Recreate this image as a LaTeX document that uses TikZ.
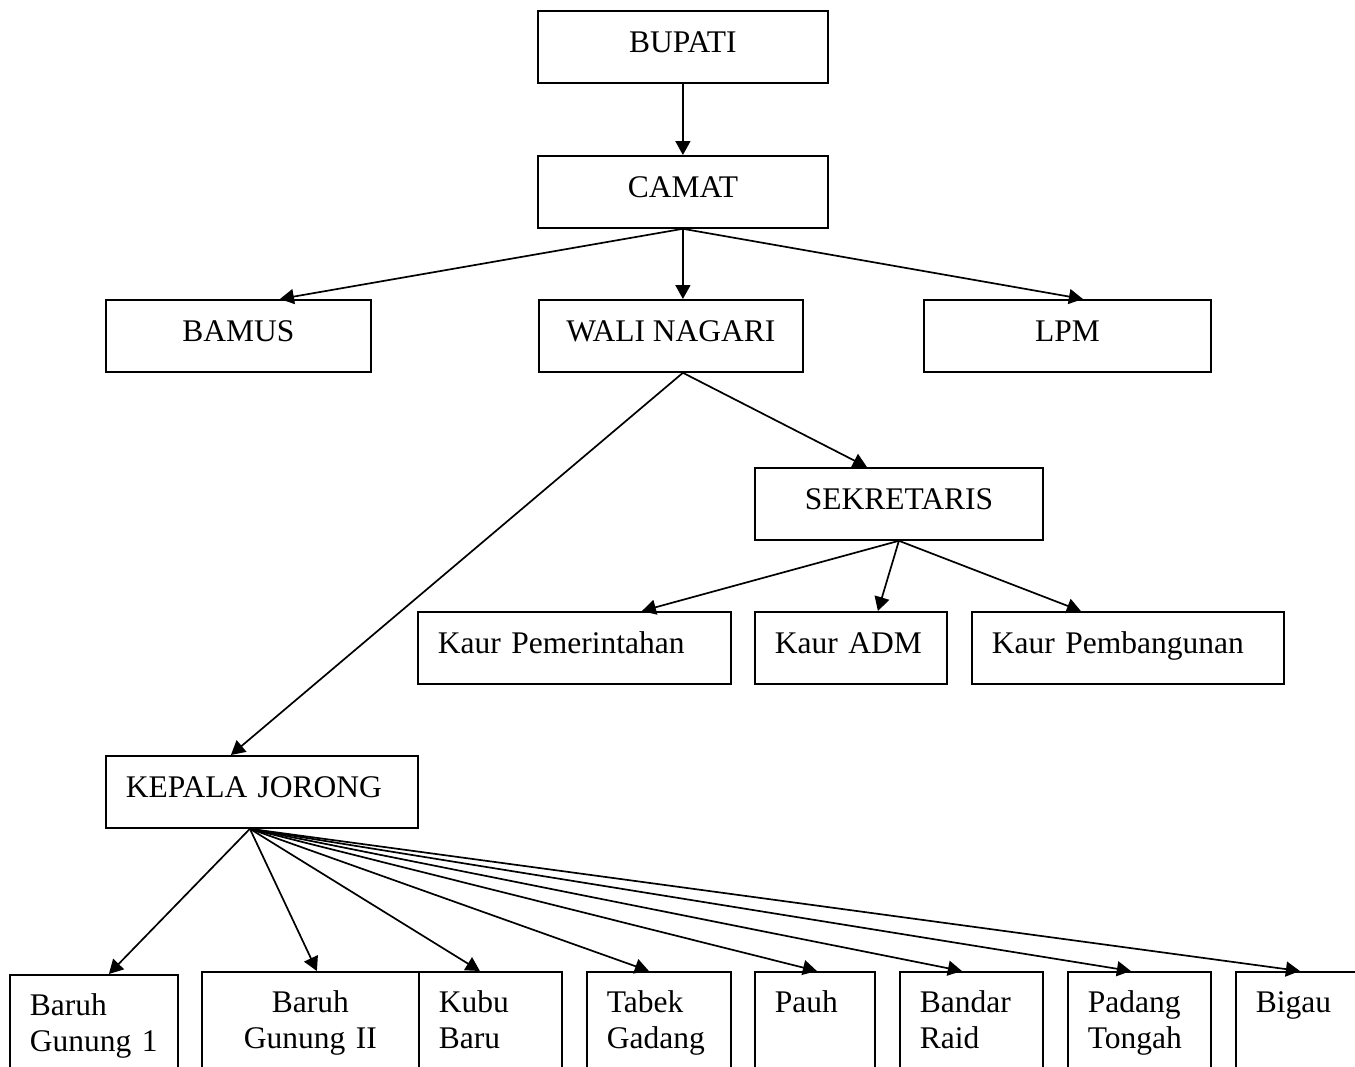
\documentclass[tikz,border=0pt]{standalone}
\usepackage{fontspec}
\setmainfont{Liberation Serif}
\usetikzlibrary{arrows.meta, positioning}
\tikzset{
    post/.style={
        draw,
        line width=0.9pt,
        anchor=north west,
        inner xsep=0pt,
        inner ysep=0pt,
        text height=21pt,
        text depth=15pt,
        font=\fontsize{15.75}{18}\selectfont,
    },
    postleft/.style={
        post,
        inner xsep=10pt,
        align=left,
    },
    jorong/.style={
        postleft,
        text height=20.5pt,
        text depth=60pt,
    },
}

\begin{document}
\begin{tikzpicture}[x=0.5pt,y=-0.5pt,>={Triangle[length=7pt,width=7.5pt]},line width=0.85pt]
      \useasboundingbox (0,0) rectangle (1355,1066);

      \node [post, minimum width=145pt] (bupati) at (537,10) {BUPATI};
      \node [post, minimum width=145pt] (camat) at (537,155) {CAMAT};

      \node [post, minimum width=132.5pt] (bamus) at (105,299) {BAMUS};
      \node [post, minimum width=132pt] (wali) at (538,299) {WALI NAGARI};
      \node [post, minimum width=143.5pt] (lpm) at (923,299) {LPM};

      \node [post, minimum width=144pt] (sek) at (754,467) {SEKRETARIS};
      \node [postleft, text width=136.5pt] (kpem) at (417,611) {Kaur Pemerintahan};
      \node [postleft, text width=76pt] (kadm) at (754,611) {Kaur ADM};
      \node [postleft, text width=136pt] (kpemb) at (971,611) {Kaur Pembangunan};

      \node [postleft, text width=136pt] (kj) at (105,755) {KEPALA JORONG};

      \node [jorong, text width=64pt] (b1) at (9,974) {Baruh\\Gunung 1};
      \node [jorong, text width=88.5pt, align=center] (b2) at (201,971) {Baruh\\Gunung II};
      \node [jorong, text width=51.5pt] (kubu) at (418,971) {Kubu\\Baru};
      \node [jorong, text width=52pt] (tabek) at (586,971) {Tabek\\Gadang};
      \node [jorong, text width=40pt] (pauh) at (754,971) {Pauh};
      \node [jorong, text width=51.5pt] (bandar) at (899,971) {Bandar\\Raid};
      \node [jorong, text width=51.5pt] (padang) at (1067,971) {Padang\\Tongah};
      \node [jorong, text width=42.5pt] (bigau) at (1235,971) {Bigau};

      \path[->] (bupati.south) edge (camat.north);
      \path[->] (camat.south) edge ([xshift=20.75pt]bamus.north);
      \path[->] (camat.south) edge ([xshift=6pt]wali.north);
      \path[->] (camat.south) edge ([xshift=7.75pt]lpm.north);

      \path[->] ([xshift=6pt]wali.south) edge ([xshift=-16pt]sek.north);
      \path[->] ([xshift=6pt]wali.south) edge ([xshift=-15.5pt]kj.north);

      \path[->] (sek.south) edge ([xshift=33.75pt]kpem.north);
      \path[->] (sek.south) edge ([xshift=13.5pt]kadm.north);
      \path[->] (sek.south) edge ([xshift=-23.5pt]kpemb.north);

      \path[->] ([xshift=-6pt]kj.south) edge ([xshift=7.5pt]b1.north);
      \path[->] ([xshift=-6pt]kj.south) edge ([xshift=3.25pt]b2.north);
      \path[->] ([xshift=-6pt]kj.south) edge ([xshift=-5.25pt]kubu.north);
      \path[->] ([xshift=-6pt]kj.south) edge ([xshift=-5pt]tabek.north);
      \path[->] ([xshift=-6pt]kj.south) edge ([xshift=1pt]pauh.north);
      \path[->] ([xshift=-6pt]kj.south) edge ([xshift=-4.75pt]bandar.north);
      \path[->] ([xshift=-6pt]kj.south) edge ([xshift=-4.25pt]padang.north);
      \path[->] ([xshift=-6pt]kj.south) edge ([xshift=0.75pt]bigau.north);
    \end{tikzpicture}
\end{document}
